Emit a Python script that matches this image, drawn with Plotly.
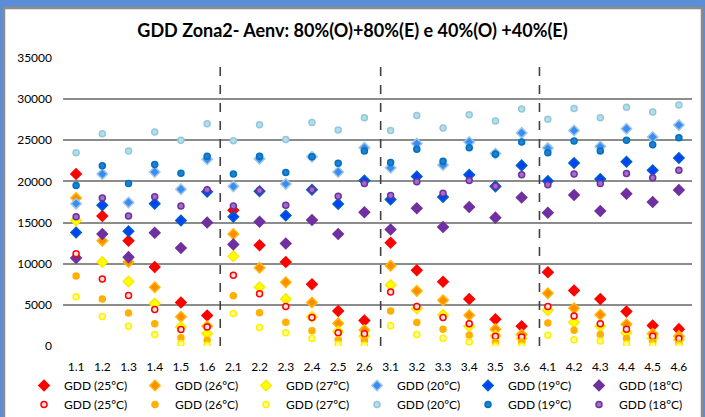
import plotly.graph_objects as go

categories = ["1.1", "1.2", "1.3", "1.4", "1.5", "1.6",
              "2.1", "2.2", "2.3", "2.4", "2.5", "2.6",
              "3.1", "3.2", "3.3", "3.4", "3.5", "3.6",
              "4.1", "4.2", "4.3", "4.4", "4.5", "4.6"]

# Diamonds (E)
e25 = [20900, 15800, 12800, 9600, 5300, 3700,
       16500, 12250, 10200, 7500, 4250, 3100,
       12550, 9200, 7800, 5700, 3250, 2400,
       8950, 6750, 5700, 4200, 2500, 2050]
e26 = [18000, 12800, 10200, 7150, 3550, 2400,
       13600, 9500, 7750, 5300, 2750, 1950,
       9750, 6700, 5550, 3750, 2050, 1400,
       6400, 4600, 3800, 2650, 1500, 1200]
e27 = [15250, 10200, 7850, 5150, 2300, 1500,
       10900, 7150, 5700, 3550, 1750, 1200,
       7400, 4550, 3800, 2400, 1250, 900,
       4350, 2900, 2400, 1600, 950, 800]
e20 = [17300, 20900, 17450, 21150, 19050, 22700,
       19400, 22750, 19700, 23000, 21150, 24100,
       21650, 24600, 22000, 24800, 23400, 25900,
       24050, 26200, 24250, 26400, 25400, 26850]
e19 = [13800, 17100, 13950, 17300, 15250, 18750,
       15700, 18800, 15850, 19000, 17250, 20100,
       17800, 20600, 18100, 20800, 19400, 21950,
       20050, 22250, 20300, 22400, 21350, 22850]
e18 = [10700, 13600, 10800, 13750, 11900, 15000,
       12350, 15100, 12450, 15300, 13600, 16250,
       14150, 16750, 14450, 16900, 15600, 18050,
       16200, 18350, 16400, 18500, 17500, 18950]

# Circles (O)
o25 = [11200, 8150, 6150, 4450, 2000, 2300,
       8600, 6350, 4800, 3450, 1600, 1500,
       6550, 4800, 3450, 2700, 1200, 1100,
       4800, 3650, 2700, 2050, 1200, 900]
o26 = [8500, 5700, 4000, 2700, 1000, 700,
       6100, 4050, 2900, 1850, 750, 700,
       4250, 2850, 2050, 1300, 500, 500,
       2800, 1900, 1400, 900, 500, 300]
o27 = [6000, 3600, 2400, 1400, 300, 100,
       3950, 2250, 1600, 900, 200, 100,
       2450, 1400, 950, 500, 0, 0,
       1300, 750, 600, 250, 100, 0]
o20 = [23500, 25800, 23700, 26000, 25000, 27000,
       24950, 26900, 25100, 27150, 26250, 27750,
       26200, 28000, 26500, 28100, 27350, 28800,
       27550, 28850, 27750, 29000, 28450, 29300]
o19 = [19500, 21900, 19750, 22050, 21000, 23050,
       20900, 23050, 21100, 23000, 22200, 23700,
       22300, 23900, 22450, 24100, 23300, 24800,
       23500, 24900, 23700, 25000, 24450, 25300]
o18 = [15700, 18000, 15800, 18150, 17000, 19000,
       17000, 18900, 17100, 19000, 18200, 19750,
       18300, 19950, 18550, 20100, 19400, 20800,
       19600, 20900, 19750, 20950, 20450, 21350]

names = ["GDD (25ºC)", "GDD (26ºC)", "GDD (27ºC)", "GDD (20ºC)", "GDD (19ºC)", "GDD (18ºC)"]
e_series = [e25, e26, e27, e20, e19, e18]
o_series = [o25, o26, o27, o20, o19, o18]

# (fill, line) for diamonds
e_styles = [("#FF0000", "#FF0000"), ("#FF8C00", "#FFB800"), ("#FFFF00", "#FFE800"),
            ("#3C8CF0", "#9CC8E8"), ("#0040FF", "#0060C0"), ("#7030A0", "#7030A0")]
# (fill, line) for circles
o_styles = [("#FFE0E0", "#FF0000"), ("#FFB000", "#FFB000"), ("#FFFF90", "#FFF000"),
            ("#B8DCEA", "#92C8DC"), ("#2080D0", "#0070C0"), ("#A070C8", "#7030A0")]

fig = go.Figure()
for name, vals, (fc, lc) in zip(names, e_series, e_styles):
    fig.add_trace(go.Scatter(x=categories, y=vals, mode="markers", name=name,
                             marker=dict(symbol="diamond", size=8, color=fc,
                                         line=dict(color=lc, width=1.5))))
for name, vals, (fc, lc) in zip(names, o_series, o_styles):
    fig.add_trace(go.Scatter(x=categories, y=vals, mode="markers", name=name,
                             marker=dict(symbol="circle", size=6, color=fc,
                                         line=dict(color=lc, width=1.5))))

L, R, T, B = 63, 13, 58, 71
W, H = 705, 417
pw, ph = W - L - R, H - T - B

def px_x(px):
    return (px - L) / pw

def px_y(py):
    return (H - B - py) / ph

shapes = [
    dict(type="rect", xref="paper", yref="paper", layer="below",
         x0=px_x(4), x1=px_x(702), y0=px_y(430), y1=px_y(8),
         fillcolor="white", line=dict(color="#8C8C8C", width=2.5)),
]
for xv in [5.5, 11.62, 17.68]:
    shapes.append(dict(type="line", xref="x", yref="y", x0=xv, x1=xv, y0=0, y1=35000,
                       line=dict(color="#404040", width=1.6, dash="dash")))

fig.update_layout(
    width=W, height=H,
    margin=dict(l=L, r=R, t=T, b=B, autoexpand=False),
    paper_bgcolor="#5B8ED6",
    plot_bgcolor="rgba(0,0,0,0)",
    font=dict(family="Lato, Open Sans, sans-serif", size=12, color="#000000"),
    title=dict(text="<b>GDD Zona2- Aenv: 80%(O)+80%(E) e 40%(O) +40%(E)</b>",
               x=0.5, xref="container", xanchor="center",
               y=1 - 31 / H, yref="container", yanchor="middle",
               font=dict(size=18, color="#000000")),
    xaxis=dict(type="category", range=[-0.5, 23.5], showgrid=False, zeroline=False,
               showline=False, ticks="", ticklabelstandoff=12,
               tickfont=dict(size=12)),
    yaxis=dict(range=[0, 35000], dtick=5000, tickformat="d", showgrid=True,
               gridcolor="#8C8C8C", gridwidth=1.6, zeroline=False, showline=False,
               ticks="", ticklabelstandoff=10, tickfont=dict(size=12)),
    shapes=shapes,
    showlegend=True,
    legend=dict(orientation="h", x=px_x(24), xanchor="left", y=px_y(371), yanchor="top",
                bgcolor="rgba(0,0,0,0)", font=dict(size=12),
                entrywidth=66, entrywidthmode="pixels", traceorder="normal",
                itemwidth=30),
)

fig.write_html("out.html", config={"displayModeBar": False},
               post_script="document.body.style.margin='0';")
